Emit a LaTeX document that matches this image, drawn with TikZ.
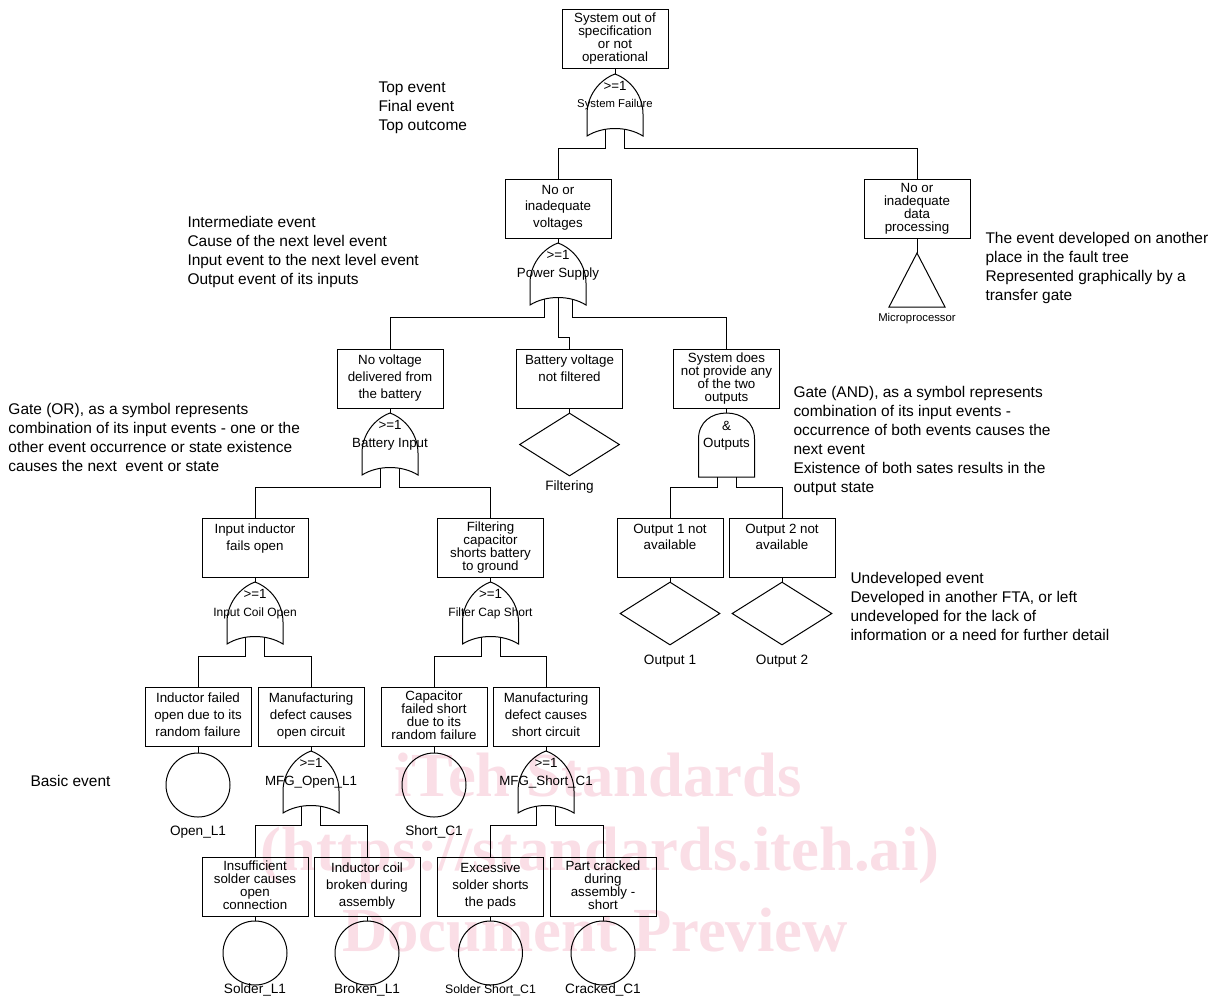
\documentclass[tikz,border=0pt]{standalone}
\usepackage{fontspec}
\setmainfont{Liberation Sans}
\newfontfamily\wmfont{Liberation Serif}
\usetikzlibrary{shapes.geometric}
\definecolor{wmpink}{RGB}{250,222,230}
\newcommand{\gfntA}{\fontsize{10}{12}\selectfont}
\newcommand{\gfntB}{\fontsize{8.5}{10}\selectfont}
\newcommand{\gfntC}{\fontsize{9}{11}\selectfont}
\tikzset{
  pics/orgate/.style n args={3}{code={
    \draw (0,0) .. controls (-16,6) and (-28,22) .. (-28,40) -- (-28,62)
      .. controls (-12,52) and (12,52) .. (28,62) -- (28,40)
      .. controls (28,22) and (16,6) .. (0,0) -- cycle;
    \coordinate (-tip) at (0,0);
    \coordinate (-la) at (-9.5,55.3); \coordinate (-lb) at (-9.5,74);
    \coordinate (-ra) at (9.5,55.3);  \coordinate (-rb) at (9.5,74);
    \coordinate (-lwa) at (-14,56.2); \coordinate (-lwb) at (-14,74);
    \coordinate (-rwa) at (14,56.2);  \coordinate (-rwb) at (14,74);
    \coordinate (-ca) at (0,54.5);
    \node[inner sep=0pt, font=\gfntA] (-sym) at (0,12) {#1};
    \node[inner sep=0pt, font=#3] (-lab) at (0,31) {#2};
  }},
  pics/andgate/.style n args={3}{code={
    \draw (-28,64) -- (-28,26) .. controls (-28,9) and (-15,0) .. (0,0)
      .. controls (15,0) and (28,9) .. (28,26) -- (28,64) -- cycle;
    \coordinate (-tip) at (0,0);
    \coordinate (-la) at (-9.5,64); \coordinate (-lb) at (-9.5,74);
    \coordinate (-ra) at (9.5,64);  \coordinate (-rb) at (9.5,74);
    \node[inner sep=0pt, font=\gfntA] (-sym) at (0,13) {#1};
    \node[inner sep=0pt, font=#3] (-lab) at (0,31) {#2};
  }},
}
\begin{document}
\begin{tikzpicture}[x=0.75pt,y=-0.75pt, line width=0.75pt,
  evbox/.style={draw, rectangle, minimum width=79.5pt, minimum height=44.25pt, inner sep=0pt},
  evtext/.style={font=\fontsize{10}{12.5}\selectfont, align=center, inner sep=0pt, anchor=north},
  evtextq/.style={font=\fontsize{10}{9.75}\selectfont, align=center, inner sep=0pt, anchor=north},
  basic/.style={draw, circle, minimum size=48pt, inner sep=0pt},
  undev/.style={draw, diamond, aspect=1.6, minimum width=75pt, minimum height=47.25pt, inner sep=0pt},
  evlab/.style={font=\fontsize{10.2}{12}\selectfont, inner sep=0pt},
  note/.style={font=\fontsize{11.6}{14.25}\selectfont, align=left, anchor=north west, inner sep=0pt},
  wm/.style={font=\wmfont\bfseries\fontsize{47}{50}\selectfont, text=wmpink, inner sep=0pt},
]
\fill[white] (0,0) rectangle (1222,1001);
\useasboundingbox (0,0) rectangle (1222,1001);

% watermark
\node[wm] (wm1) at (598,775) {iTeh Standards};
\node[wm] (wm2) at (600,855) {(https://standards.iteh.ai)};
\node[wm] (wm3) at (595,930) {Document Preview};

% ---------- event boxes ----------
\node[evbox] (b0) at (615,38.5) {};
\node[evtextq] (b0t) at ([yshift=-3pt]b0.north) {System out of\\specification\\or not\\operational};
\node[evbox] (b1) at (558,208.5) {};
\node[evtext] (b1t) at ([yshift=-4.5pt]b1.north) {No or\\inadequate\\voltages};
\node[evbox] (b2) at (917,208.5) {};
\node[evtextq] (b2t) at ([yshift=-3pt]b2.north) {No or\\inadequate\\data\\processing};

\node[evbox] (b3) at (390,378.5) {};
\node[evtext] (b3t) at ([yshift=-4.5pt]b3.north) {No voltage\\delivered from\\the battery};
\node[evbox] (b4) at (569.5,378.5) {};
\node[evtext] (b4t) at ([yshift=-4.5pt]b4.north) {Battery voltage\\not filtered};
\node[evbox] (b5) at (726.5,378.5) {};
\node[evtextq] (b5t) at ([yshift=-3pt]b5.north) {System does\\not provide any\\of the two\\outputs};

\node[evbox] (b6) at (255,547.5) {};
\node[evtext] (b6t) at ([yshift=-4.5pt]b6.north) {Input inductor\\fails open};
\node[evbox] (b7) at (490.5,547.5) {};
\node[evtextq] (b7t) at ([yshift=-3pt]b7.north) {Filtering\\capacitor\\shorts battery\\to ground};
\node[evbox] (b8) at (670,547.5) {};
\node[evtext] (b8t) at ([yshift=-4.5pt]b8.north) {Output 1 not\\available};
\node[evbox] (b9) at (782,547.5) {};
\node[evtext] (b9t) at ([yshift=-4.5pt]b9.north) {Output 2 not\\available};

\node[evbox] (b10) at (198,716.5) {};
\node[evtext] (b10t) at ([yshift=-4.5pt]b10.north) {Inductor failed\\open due to its\\random failure};
\node[evbox] (b11) at (311,716.5) {};
\node[evtext] (b11t) at ([yshift=-4.5pt]b11.north) {Manufacturing\\defect causes\\open circuit};
\node[evbox] (b12) at (434,716.5) {};
\node[evtextq] (b12t) at ([yshift=-3pt]b12.north) {Capacitor\\failed short\\due to its\\random failure};
\node[evbox] (b13) at (546,716.5) {};
\node[evtext] (b13t) at ([yshift=-4.5pt]b13.north) {Manufacturing\\defect causes\\short circuit};

\node[evbox] (b14) at (255,886.5) {};
\node[evtextq] (b14t) at ([yshift=-3pt]b14.north) {Insufficient\\solder causes\\open\\connection};
\node[evbox] (b15) at (367,886.5) {};
\node[evtext] (b15t) at ([yshift=-4.5pt]b15.north) {Inductor coil\\broken during\\assembly};
\node[evbox] (b16) at (490.5,886.5) {};
\node[evtext] (b16t) at ([yshift=-4.5pt]b16.north) {Excessive\\solder shorts\\the pads};
\node[evbox] (b17) at (603,886.5) {};
\node[evtextq] (b17t) at ([yshift=-3pt]b17.north) {Part cracked\\during\\assembly -\\short};

% ---------- gates ----------
\pic (g0) at (615,74) {orgate={>=1}{System Failure}{\gfntB}};
\pic (g1) at (558,243) {orgate={>=1}{Power Supply}{\gfntA}};
\pic (g2) at (390,413) {orgate={>=1}{Battery Input}{\gfntA}};
\pic (ga) at (726.5,413) {andgate={\&}{Outputs}{\gfntA}};
\pic (g3) at (255,582) {orgate={>=1}{Input Coil Open}{\gfntC}};
\pic (g4) at (490.5,582) {orgate={>=1}{Filter Cap Short}{\gfntC}};
\pic (g5) at (311,751) {orgate={>=1}{MFG\_Open\_L1}{\gfntA}};
\pic (g6) at (546,751) {orgate={>=1}{MFG\_Short\_C1}{\gfntA}};

% ---------- transfer, undeveloped, basic ----------
\coordinate (tri) at (917,253);
\draw (tri) -- (945,307) -- (889,307) -- cycle;
\node[inner sep=0pt, font=\fontsize{8.5}{10}\selectfont] (trl) at (917,319) {Microprocessor};

\node[undev] (dF) at (569.5,444.5) {};
\node[evlab] (dFl) at (569.5,487) {Filtering};
\node[undev] (d1) at (670,613.5) {};
\node[evlab] (d1l) at (670,661) {Output 1};
\node[undev] (d2) at (782,613.5) {};
\node[evlab] (d2l) at (782,661) {Output 2};

\node[basic] (c1) at (198,785) {};
\node[evlab] (c1l) at (198,832) {Open\_L1};
\node[basic] (c2) at (434,785) {};
\node[evlab] (c2l) at (434,832) {Short\_C1};
\node[basic] (c3) at (255,953) {};
\node[evlab] (c3l) at (255,990) {Solder\_L1};
\node[basic] (c4) at (367,953) {};
\node[evlab] (c4l) at (367,990) {Broken\_L1};
\node[basic] (c5) at (490.5,953) {};
\node[inner sep=0pt, font=\fontsize{9.2}{11}\selectfont] (c5l) at (490.5,990) {Solder Short\_C1};
\node[basic] (c6) at (603,953) {};
\node[evlab] (c6l) at (603,990) {Cracked\_C1};

% ---------- connectors ----------
\draw (b0.south) -- (g0-tip);
\draw (g0-la) -- (g0-lb) -| (b1.north);
\draw (g0-ra) -- (g0-rb) -| (b2.north);
\draw (b1.south) -- (g1-tip);
\draw (b2.south) -- (tri);
\draw (g1-lwa) -- (g1-lwb) -| (b3.north);
\draw (g1-ca) |- ([yshift=8.25pt]b4.north) -- (b4.north);
\draw (g1-rwa) -- (g1-rwb) -| (b5.north);
\draw (b3.south) -- (g2-tip);
\draw (b4.south) -- (dF.north);
\draw (b5.south) -- (ga-tip);
\draw (g2-la) -- (g2-lb) -| (b6.north);
\draw (g2-ra) -- (g2-rb) -| (b7.north);
\draw (ga-la) -- (ga-lb) -| (b8.north);
\draw (ga-ra) -- (ga-rb) -| (b9.north);
\draw (b6.south) -- (g3-tip);
\draw (b7.south) -- (g4-tip);
\draw (b8.south) -- (d1.north);
\draw (b9.south) -- (d2.north);
\draw (g3-la) -- (g3-lb) -| (b10.north);
\draw (g3-ra) -- (g3-rb) -| (b11.north);
\draw (g4-la) -- (g4-lb) -| (b12.north);
\draw (g4-ra) -- (g4-rb) -| (b13.north);
\draw (b10.south) -- (c1.north);
\draw (b12.south) -- (c2.north);
\draw (b11.south) -- (g5-tip);
\draw (b13.south) -- (g6-tip);
\draw (g5-la) -- (g5-lb) -| (b14.north);
\draw (g5-ra) -- (g5-rb) -| (b15.north);
\draw (g6-la) -- (g6-lb) -| (b16.north);
\draw (g6-ra) -- (g6-rb) -| (b17.north);
\draw (b14.south) -- (c3.north);
\draw (b15.south) -- (c4.north);
\draw (b16.south) -- (c5.north);
\draw (b17.south) -- (c6.north);

% ---------- annotations ----------
\node[note] (n1) at (378,81) {Top event\\Final event\\Top outcome};
\node[note] (n2) at (187,216) {Intermediate event\\Cause of the next level event\\Input event to the next level event\\Output event of its inputs};
\node[note] (n3) at (985,232) {The event developed on another\\place in the fault tree\\Represented graphically by a\\transfer gate};
\node[note] (n4) at (793,386) {Gate (AND), as a symbol represents\\combination of its input events -\\occurrence of both events causes the\\next event\\Existence of both sates results in the\\output state};
\node[note] (n5) at (8,403) {Gate (OR), as a symbol represents\\combination of its input events - one or the\\other event occurrence or state existence\\causes the next\ \ event or state};
\node[note] (n6) at (850,572) {Undeveloped event\\Developed in another FTA, or left\\undeveloped for the lack of\\information or a need for further detail};
\node[note] (n7) at (30,775) {Basic event};
\end{tikzpicture}
\end{document}
